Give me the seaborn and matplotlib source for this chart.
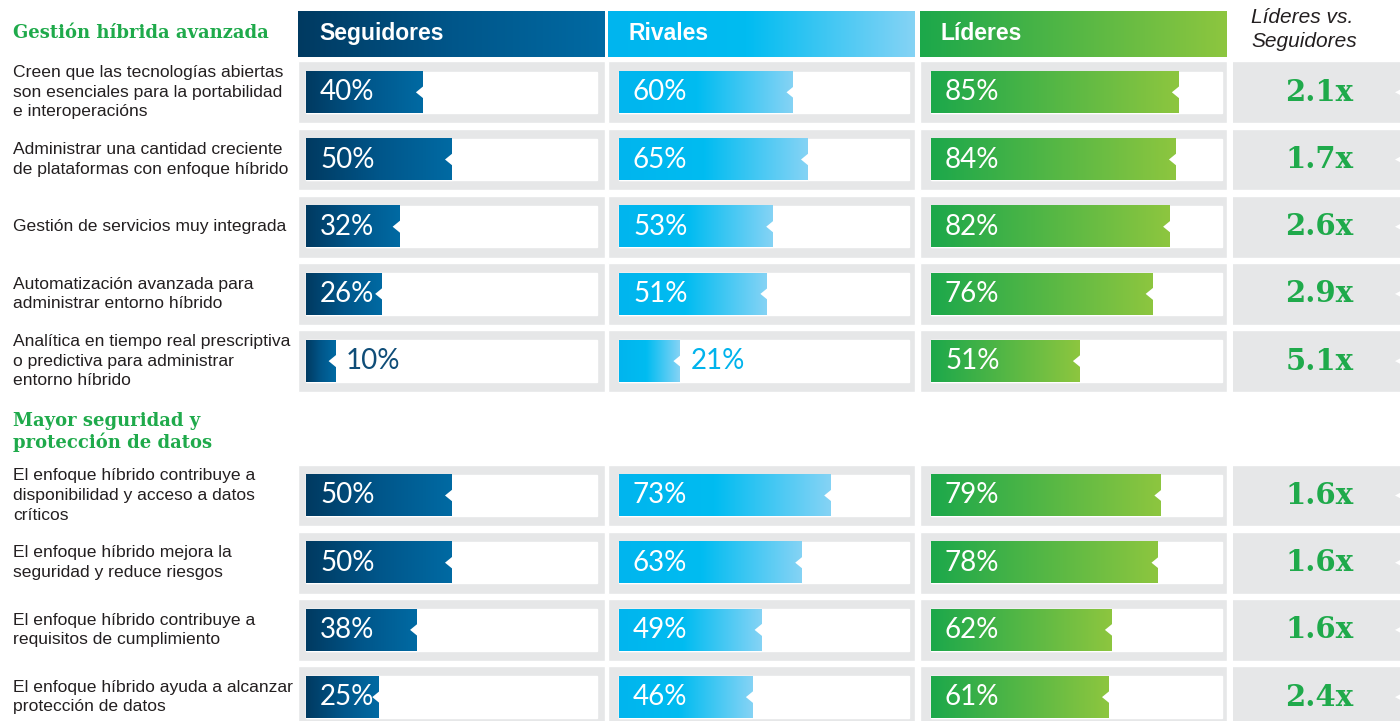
import numpy as np
import pandas as pd
import matplotlib
matplotlib.use("Agg")
import matplotlib.pyplot as plt
import matplotlib.transforms as mtransforms
from matplotlib.colors import LinearSegmentedColormap
from matplotlib.patches import Polygon
import seaborn as sns

sns.set_theme(style="white")
plt.rcParams['font.family'] = ['Liberation Sans', 'DejaVu Sans']

# ---------------- data ----------------
groups = ["Seguidores", "Rivales", "Líderes"]
section_titles = ["Gestión híbrida avanzada", "Mayor seguridad y\nprotección de datos"]
labels = [
    "Creen que las tecnologías abiertas\nson esenciales para la portabilidad\ne interoperacións",
    "Administrar una cantidad creciente\nde plataformas con enfoque híbrido",
    "Gestión de servicios muy integrada",
    "Automatización avanzada para\nadministrar entorno híbrido",
    "Analítica en tiempo real prescriptiva\no predictiva para administrar\nentorno híbrido",
    "El enfoque híbrido contribuye a\ndisponibilidad y acceso a datos\ncríticos",
    "El enfoque híbrido mejora la\nseguridad y reduce riesgos",
    "El enfoque híbrido contribuye a\nrequisitos de cumplimiento",
    "El enfoque híbrido ayuda a alcanzar\nprotección de datos",
]
seguidores = [40, 50, 32, 26, 10, 50, 50, 38, 25]
rivales = [60, 65, 53, 51, 21, 73, 63, 49, 46]
lideres = [85, 84, 82, 76, 51, 79, 78, 62, 61]
ratios = ["2.1x", "1.7x", "2.6x", "2.9x", "5.1x", "1.6x", "1.6x", "1.6x", "2.4x"]
ratio_header = "Líderes vs.\nSeguidores"
row_pos = [0, 1, 2, 3, 4, 6, 7, 8, 9]

df = pd.DataFrame({"pos": row_pos, "Seguidores": seguidores,
                   "Rivales": rivales, "Líderes": lideres})

# ---------------- style / layout ----------------
W, H = 1400, 721
ROW_PX, ROW0_PX = 67.2, 92.3
Y_TOP = -ROW0_PX / ROW_PX
Y_BOT = (H - ROW0_PX) / ROW_PX
HEAD_Y = (33.85 - ROW0_PX) / ROW_PX
HEAD_H = 45.7 / ROW_PX
CELL_H = 61.7 / ROW_PX
BAR_H = 41.5 / ROW_PX

GREY = "#E6E7E8"
GREEN = "#1FAA4B"
TEXT = "#231F20"
PCT_FONT = ["Lato", "DejaVu Sans"]

panels = {
    "Seguidores": dict(px=(298, 605, 306, 597),
                       cmap=LinearSegmentedColormap.from_list("s", ["#003A61", "#00568A", "#006AA3"]),
                       out="#0F4D78"),
    "Rivales": dict(px=(608, 915, 619, 909),
                    cmap=LinearSegmentedColormap.from_list(
                        "r", [(0, "#00B5EE"), (0.45, "#00BCF1"), (1, "#85D3F5")]),
                    out="#00B3EC"),
    "Líderes": dict(px=(920, 1227, 931, 1222),
                    cmap=LinearSegmentedColormap.from_list("l", ["#1CA84B", "#8DC63F"]),
                    out="#1CA84B"),
}

fig = plt.figure(figsize=(W / 100, H / 100), dpi=100)
grad = np.linspace(0, 1, 256).reshape(1, -1)

first_ax = None
for g in groups:
    cfg = panels[g]
    gl, gr, wl, wr = cfg["px"]
    ppu = (wr - wl) / 100.0
    xlim = (-(wl - gl) / ppu, 100 + (gr - wr) / ppu)
    ax = fig.add_axes([gl / W, 0, (gr - gl) / W, 1])
    if first_ax is None:
        first_ax = ax
    ax.barh(row_pos, xlim[1] - xlim[0], left=xlim[0], height=CELL_H,
            color=GREY, zorder=0)
    ax.barh(row_pos, 100, left=0, height=BAR_H, color="white", zorder=1)
    n0 = len(ax.patches)
    sns.barplot(data=df, x=g, y="pos", orient="h", native_scale=True,
                width=BAR_H, color=cfg["cmap"](0.5), errorbar=None, ax=ax,
                zorder=2)
    bars = ax.patches[n0:]
    for p, v in zip(bars, df[g]):
        x0, w = p.get_x(), p.get_width()
        y0, h = p.get_y(), p.get_height()
        ax.imshow(grad, cmap=cfg["cmap"], extent=(x0, x0 + w, y0 + h, y0),
                  aspect="auto", zorder=3, interpolation="bicubic")
        yc = y0 + h / 2
        depth = 6.5 / ppu
        hh = 6.5 / ROW_PX
        ax.add_patch(Polygon([(x0 + w + 0.5, yc - hh), (x0 + w - depth, yc),
                              (x0 + w + 0.5, yc + hh)], closed=True,
                             facecolor="white", edgecolor="none", zorder=4))
        if v >= 22:
            ax.text(14 / ppu, yc, f"{v}%", color="white", fontsize=20,
                    family=PCT_FONT, fontweight="normal",
                    va="center", ha="left", zorder=5)
        else:
            ax.text(x0 + w + 11 / ppu, yc, f"{v}%", color=cfg["out"], fontsize=20,
                    family=PCT_FONT, fontweight="normal",
                    va="center", ha="left", zorder=5)
    # header
    ax.imshow(grad, cmap=cfg["cmap"],
              extent=(xlim[0], xlim[1], HEAD_Y + HEAD_H / 2, HEAD_Y - HEAD_H / 2),
              aspect="auto", zorder=3, interpolation="bicubic")
    ax.text(xlim[0] + 21 / ppu, HEAD_Y, g, color="white", fontsize=16.5,
            fontweight="bold", va="center", ha="left", zorder=5)
    ax.set_xlim(*xlim)
    ax.set_ylim(Y_BOT, Y_TOP)
    ax.axis("off")

# ratio column
axr = fig.add_axes([1233 / W, 0, (W - 1233) / W, 1])
axr.barh(row_pos, 1.2, left=-0.1, height=CELL_H, color=GREY, zorder=0)
for y, r in zip(row_pos, ratios):
    axr.text(0.518, y, r, color=GREEN, fontsize=21, fontweight="bold",
             family=["DejaVu Serif"], ha="center", va="center", zorder=5)
    hh = 7 / ROW_PX
    axr.add_patch(Polygon([(1.05, y - hh), ((1395 - 1233) / (W - 1233), y),
                           (1.05, y + hh)], closed=True,
                          facecolor="white", edgecolor="none", zorder=4))
axr.text((1251 - 1233) / (W - 1233), (29.5 - ROW0_PX) / ROW_PX, ratio_header,
         color=TEXT, fontsize=15, style="italic", ha="left", va="center",
         linespacing=1.3)
axr.set_xlim(0, 1)
axr.set_ylim(Y_BOT, Y_TOP)
axr.axis("off")

# row labels and section titles
tr = mtransforms.blended_transform_factory(fig.transFigure, first_ax.transData)
for y, lab in zip(row_pos, labels):
    fig.text(13 / W, y, lab, transform=tr, fontsize=12.6, color=TEXT,
             ha="left", va="center", linespacing=1.38)
fig.text(13 / W, (32.5 - ROW0_PX) / ROW_PX, section_titles[0], transform=tr,
         fontsize=13, color=GREEN, family=["DejaVu Serif"], fontweight="bold",
         ha="left", va="center")
fig.text(13 / W, (432 - ROW0_PX) / ROW_PX, section_titles[1], transform=tr,
         fontsize=13, color=GREEN, family=["DejaVu Serif"], fontweight="bold",
         ha="left", va="center", linespacing=1.15)

fig.savefig("out.png", dpi=100, facecolor="white")
